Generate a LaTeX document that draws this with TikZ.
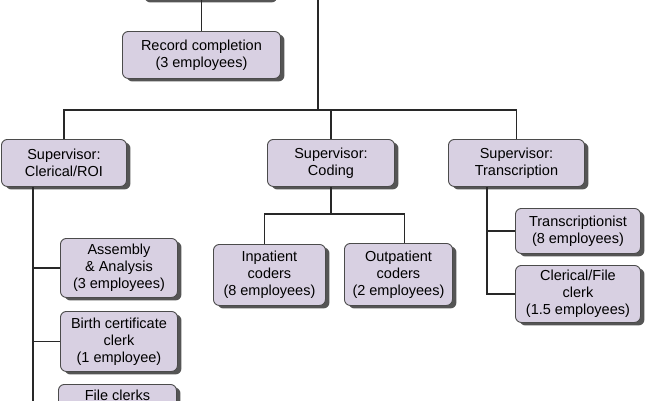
\documentclass[tikz,border=0pt]{standalone}
\usepackage{fontspec}
\setmainfont{Liberation Sans}
\usetikzlibrary{shadows}
\definecolor{boxfill}{RGB}{216,208,226}
\definecolor{boxedge}{RGB}{75,75,75}
\definecolor{shadowc}{RGB}{85,85,85}
\definecolor{linec}{RGB}{40,40,40}
\begin{document}
\begin{tikzpicture}[x=1pt,y=-1pt,
  box/.style={draw=boxedge, fill=boxfill, rounded corners=6pt, line width=0.9pt,
    align=center, inner sep=0pt, anchor=north west,
    font=\fontsize{14.5}{17}\selectfont,
    drop shadow={shadow xshift=4pt, shadow yshift=-3pt, fill=shadowc, opacity=1}},
  conn/.style={draw=linec, line width=1.2pt}]
\useasboundingbox (0,0) rectangle (650,400);
\clip (0,0) rectangle (650,400);
\fill[white] (0,0) rectangle (650,400);
% nodes
\node[box, minimum width=133pt, minimum height=41pt] (top) at (140,-42) {};
\node[box, minimum width=158pt, minimum height=47pt] (rc) at (122,31) {Record completion\\(3 employees)};
\node[box, minimum width=125pt, minimum height=47pt] (cl) at (1,139) {Supervisor:\\Clerical/ROI};
\node[box, minimum width=127pt, minimum height=47pt] (co) at (267,139) {Supervisor:\\Coding};
\node[box, minimum width=136pt, minimum height=47pt] (tr) at (448,139) {Supervisor:\\Transcription};
\node[box, minimum width=117pt, minimum height=59pt] (asm) at (60,238) {Assembly\\\&\ Analysis\\(3 employees)};
\node[box, minimum width=117pt, minimum height=60pt] (bc) at (60,311) {Birth certificate\\clerk\\(1 employee)};
\node[box, minimum width=118pt, minimum height=60pt, align=center] (fc) at (58,384) {\raisebox{-8pt}{File clerks}\\[30pt]};
\node[box, minimum width=112pt, minimum height=61pt] (ip) at (213,244) {Inpatient\\coders\\(8 employees)};
\node[box, minimum width=108pt, minimum height=62pt] (op) at (344,243) {Outpatient\\coders\\(2 employees)};
\node[box, minimum width=125pt, minimum height=45pt] (ts) at (515,208) {Transcriptionist\\(8 employees)};
\node[box, minimum width=125pt, minimum height=57pt] (cf) at (515,265) {Clerical/File\\clerk\\(1.5 employees)};
% connectors
\draw[conn] (rc.north) -- (rc.north |- top.south);
\coordinate (topc) at (318,-2);
\coordinate (hj) at (318,110);
\draw[conn] (topc) -- (hj);
\draw[conn] (cl.north) |- (hj) -| (tr.north);
\draw[conn] (co.north) -- (co.north |- hj);
\coordinate (clx) at (33,0);
\coordinate (clb) at (33,402);
\draw[conn] (cl.south -| clx) -- (clb);
\draw[conn] (asm.west) -- (asm.west -| clx);
\draw[conn] (bc.west) -- (bc.west -| clx);
\path (co.south) ++(0,27) coordinate (cj);
\draw[conn] (co.south) -- (cj);
\draw[conn] ([xshift=-5pt]ip.north) |- (cj) -| ([xshift=6pt]op.north);
\coordinate (tx) at (487,0);
\draw[conn] (tr.south -| tx) |- (cf.west);
\draw[conn] (ts.west) -- (ts.west -| tx);
\end{tikzpicture}
\end{document}
